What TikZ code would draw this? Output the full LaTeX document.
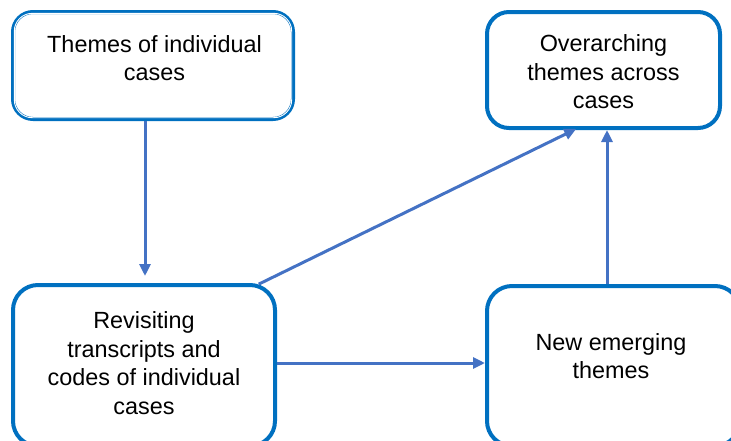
\documentclass[tikz,border=0pt]{standalone}
\usepackage{fontspec}
\setmainfont{Liberation Sans}
\usetikzlibrary{arrows.meta,calc}
\definecolor{boxblue}{HTML}{0070C0}
\definecolor{arrowblue}{HTML}{4472C4}
\begin{document}
\begin{tikzpicture}[x=1pt,y=-1pt,
  box/.style={draw=boxblue, line width=4pt, fill=white, inner sep=0pt, outer sep=0pt},
  label/.style={align=center, font=\fontsize{23.4pt}{28.5pt}\selectfont, text=black, inner sep=0pt},
  arr/.style={draw=arrowblue, line width=3pt, -{Triangle[length=12pt,width=11pt]}}]
  \useasboundingbox (0,0) rectangle (731,440);
  \clip (0,0) rectangle (731,440);

  % boxes
  \node[box, rounded corners=20pt, minimum width=280pt, minimum height=107pt] (A) at (153,65.5) {};
  \draw[white, line width=0.9pt, rounded corners=18pt] ($(A.north west)+(1.3,1.3)$) rectangle ($(A.south east)+(-1.3,-1.3)$);
  \node[box, rounded corners=22pt, minimum width=233pt, minimum height=116pt] (B) at (603.5,70) {};
  \node[box, rounded corners=25pt, minimum width=262pt, minimum height=161pt] (C) at (144,365.5) {};
  \node[box, rounded corners=25pt, minimum width=253pt, minimum height=160pt] (D) at (613.5,366) {};

  % texts
  \node[label] (tA) at (154.5,58) {Themes of individual\\cases};
  \node[label] (tB) at (603.5,72) {Overarching\\themes across\\cases};
  \node[label] (tC) at (144,363) {Revisiting\\transcripts and\\codes of individual\\cases};
  \node[label] (tD) at (611,356) {New emerging\\themes};

  % connector anchors
  \coordinate (xac) at (145,0);
  \coordinate (xcs) at (257,0);
  \coordinate (xce) at (578,0);
  \coordinate (xdb) at (607,0);

  % connectors
  \draw[arr, shorten <=2pt, shorten >=9pt] (A.south -| xac) -- (C.north -| xac);
  \draw[arr, shorten <=2pt, shorten >=2pt] (C.north -| xcs) -- (B.south -| xce);
  \draw[arr, shorten <=2pt, shorten >=2pt] (C.east |- 0,363) -- (D.west |- 0,363);
  \draw[arr, shorten <=2pt, shorten >=2pt] (D.north -| xdb) -- (B.south -| xdb);
\end{tikzpicture}
\end{document}
